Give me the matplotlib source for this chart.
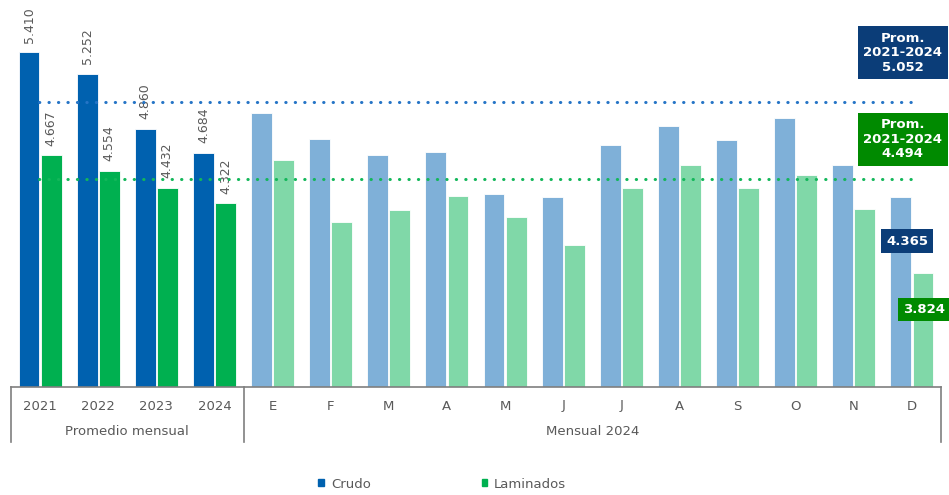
import matplotlib
matplotlib.use("Agg")
import matplotlib.pyplot as plt
import numpy as np
from matplotlib.patches import Patch

categories = ["2021", "2022", "2023", "2024", "E", "F", "M", "A", "M", "J", "J", "A", "S", "O", "N", "D"]
crudo = [5.410, 5.252, 4.860, 4.684, 4.975, 4.785, 4.668, 4.692, 4.387, 4.366,
         4.740, 4.881, 4.776, 4.939, 4.598, 4.365]
laminados = [4.667, 4.554, 4.432, 4.322, 4.634, 4.188, 4.272, 4.375, 4.224, 4.024,
             4.435, 4.598, 4.435, 4.528, 4.284, 3.824]
prom_crudo = 5.052
prom_laminados = 4.494
n_annual = 4  # first 4 categories are yearly averages
group_labels = ["Promedio mensual", "Mensual 2024"]

# colours
blue_dark = "#0061AF"
blue_light = "#7FB0D8"
green_dark = "#00B050"
green_light = "#80D8A8"
navy = "#0B3D78"
box_green = "#008A00"
grey = "#595959"

plt.rcParams["font.family"] = "DejaVu Sans"

fig = plt.figure(figsize=(9.49, 4.95), dpi=100)
ax = fig.add_axes([11 / 949, 108 / 495, 930 / 949, 387 / 495])

x = np.arange(len(categories))
w = 0.36
off = 0.19
c_cols = [blue_dark if i < n_annual else blue_light for i in range(len(x))]
l_cols = [green_dark if i < n_annual else green_light for i in range(len(x))]

ax.bar(x - off, crudo, width=w, color=c_cols, edgecolor="white", linewidth=0.6, label="Crudo", zorder=2)
ax.bar(x + off, laminados, width=w, color=l_cols, edgecolor="white", linewidth=0.6, label="Laminados", zorder=2)

# labels on the yearly bars
for i in range(n_annual):
    for xx, v in [(x[i] - off, crudo[i]), (x[i] + off, laminados[i])]:
        ax.annotate(f"{v:.3f}", (xx, v), xytext=(0, 7), textcoords="offset points",
                    rotation=90, ha="center", va="bottom", fontsize=9, color=grey, zorder=3)

# average lines
ax.hlines(prom_crudo, -0.02, 15.02, colors="#2574C6", linewidth=2.2,
          linestyles=(0, (0.1, 3.0)), capstyle="round", zorder=4)
ax.hlines(prom_laminados, -0.02, 15.02, colors="#13B75A", linewidth=2.2,
          linestyles=(0, (0.1, 3.0)), capstyle="round", zorder=4)

ax.set_xlim(-0.5, len(categories) - 0.5)
ax.set_ylim(3.0, 5.786)
ax.set_yticks([])
ax.set_xticks(x)
ax.set_xticklabels(categories, fontsize=9.5, color=grey)
ax.tick_params(axis="x", length=0, pad=9)
for s in ["top", "left", "right"]:
    ax.spines[s].set_visible(False)
ax.spines["bottom"].set_color("#7F7F7F")
ax.spines["bottom"].set_linewidth(1.2)

# group separators and labels under the axis
tr = ax.get_xaxis_transform()
for xs in [-0.5, n_annual - 0.5, len(categories) - 0.5]:
    ax.plot([xs, xs], [0, -0.142], transform=tr, color="#7F7F7F", lw=1.2, clip_on=False)
ax.text((n_annual - 1) / 2, -0.116, group_labels[0], transform=tr, ha="center", va="center",
        fontsize=9.5, color=grey)
ax.text((n_annual + len(categories) - 1) / 2, -0.116, group_labels[1], transform=tr,
        ha="center", va="center", fontsize=9.5, color=grey)

# boxes with the averages and last values
ax.text(14.84, 5.405, f"Prom.\n2021-2024\n{prom_crudo:.3f}", ha="center", va="center",
        fontsize=9.5, fontweight="bold", color="white", linespacing=1.15, clip_on=False, zorder=5,
        bbox=dict(boxstyle="square,pad=0.42", fc=navy, ec="none"))
ax.text(14.84, 4.782, f"Prom.\n2021-2024\n{prom_laminados:.3f}", ha="center", va="center",
        fontsize=9.5, fontweight="bold", color="white", linespacing=1.15, clip_on=False, zorder=5,
        bbox=dict(boxstyle="square,pad=0.42", fc=box_green, ec="none"))
ax.text(14.92, 4.051, f"{crudo[-1]:.3f}", ha="center", va="center", fontsize=9.5,
        fontweight="bold", color="white", clip_on=False, zorder=5,
        bbox=dict(boxstyle="square,pad=0.38", fc=navy, ec="none"))
ax.text(15.20, 3.558, f"{laminados[-1]:.3f}", ha="center", va="center", fontsize=9.5,
        fontweight="bold", color="white", clip_on=False, zorder=5,
        bbox=dict(boxstyle="square,pad=0.38", fc=box_green, ec="none"))

# legend
handles = [Patch(color=blue_dark), Patch(color=green_dark)]
leg = fig.legend(handles, ["Crudo", "Laminados"], loc="center", bbox_to_anchor=(0.466, 0.022),
                 ncol=2, frameon=False, fontsize=9.5, handlelength=0.45, handleheight=0.45,
                 handletextpad=0.5, columnspacing=8.4)
for t in leg.get_texts():
    t.set_color(grey)

fig.savefig("out.png", dpi=100)
